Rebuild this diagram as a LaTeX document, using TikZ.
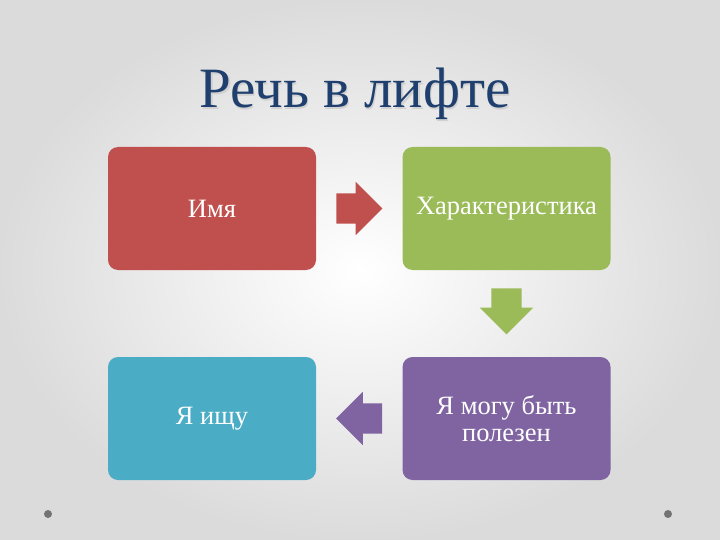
\documentclass[tikz,border=0pt]{standalone}
\usepackage{fontspec}
\setmainfont{Liberation Serif}
\usetikzlibrary{shapes.arrows,calc}
\definecolor{titleblue}{HTML}{1F3F6E}
\definecolor{boxred}{HTML}{C0504D}
\definecolor{boxgreen}{HTML}{9BBB59}
\definecolor{boxteal}{HTML}{4BACC6}
\definecolor{boxpurple}{HTML}{8064A2}
\tikzset{
  card/.style={rounded corners=10pt, minimum width=208pt, minimum height=123pt,
    text=white, font=\fontsize{26.5}{27}\selectfont, align=center, inner sep=0pt},
  blockarrow/.style={single arrow, minimum height=46pt, minimum width=53pt,
    inner xsep=0pt, inner ysep=15pt, single arrow head extend=11.5pt, anchor=tail}
}
\begin{document}
\begin{tikzpicture}[x=1pt, y=-1pt, line join=round, line cap=round]
		\useasboundingbox (0,0) rectangle (720,540);
		\shade[inner color=white, outer color=black!14] (0,0) rectangle (720,540);
		\path
		(212,208.5) coordinate (A)
		(506.5,208.5) coordinate (B)
		(212,418.5) coordinate (C)
		(506.5,418.5) coordinate (D);
		% title
		\node[anchor=base, text=black!18, font=\fontsize{57}{58}\selectfont] at (356.5,109.5) {Речь в лифте};
		\node[anchor=base, text=titleblue, font=\fontsize{57}{58}\selectfont] (title) at (355,108) {Речь в лифте};
		% cards
		\node[card, fill=boxred] (imya) at (A) {Имя};
		\node[card, fill=boxgreen] (harakt) at (B) {Характеристика};
		\node[card, fill=boxteal] (ishu) at (C) {Я ищу};
		\node[card, fill=boxpurple] (polezen) at (D) {Я могу быть\\полезен};
		% arrows
		\node[blockarrow, fill=boxred] (arA) at ($(imya.east)+(20,0)$) {};
		\node[blockarrow, fill=boxgreen, rotate=-90] (arB) at ($(harakt.south)+(0,18)$) {};
		\node[blockarrow, fill=boxpurple, rotate=180] (arC) at ($(polezen.west)+(-20,0)$) {};
		% corner dots
		\foreach \p in {(48,514), (668,514)}
		\fill[black!55] \p circle (4pt);
		
	\end{tikzpicture}
\end{document}
